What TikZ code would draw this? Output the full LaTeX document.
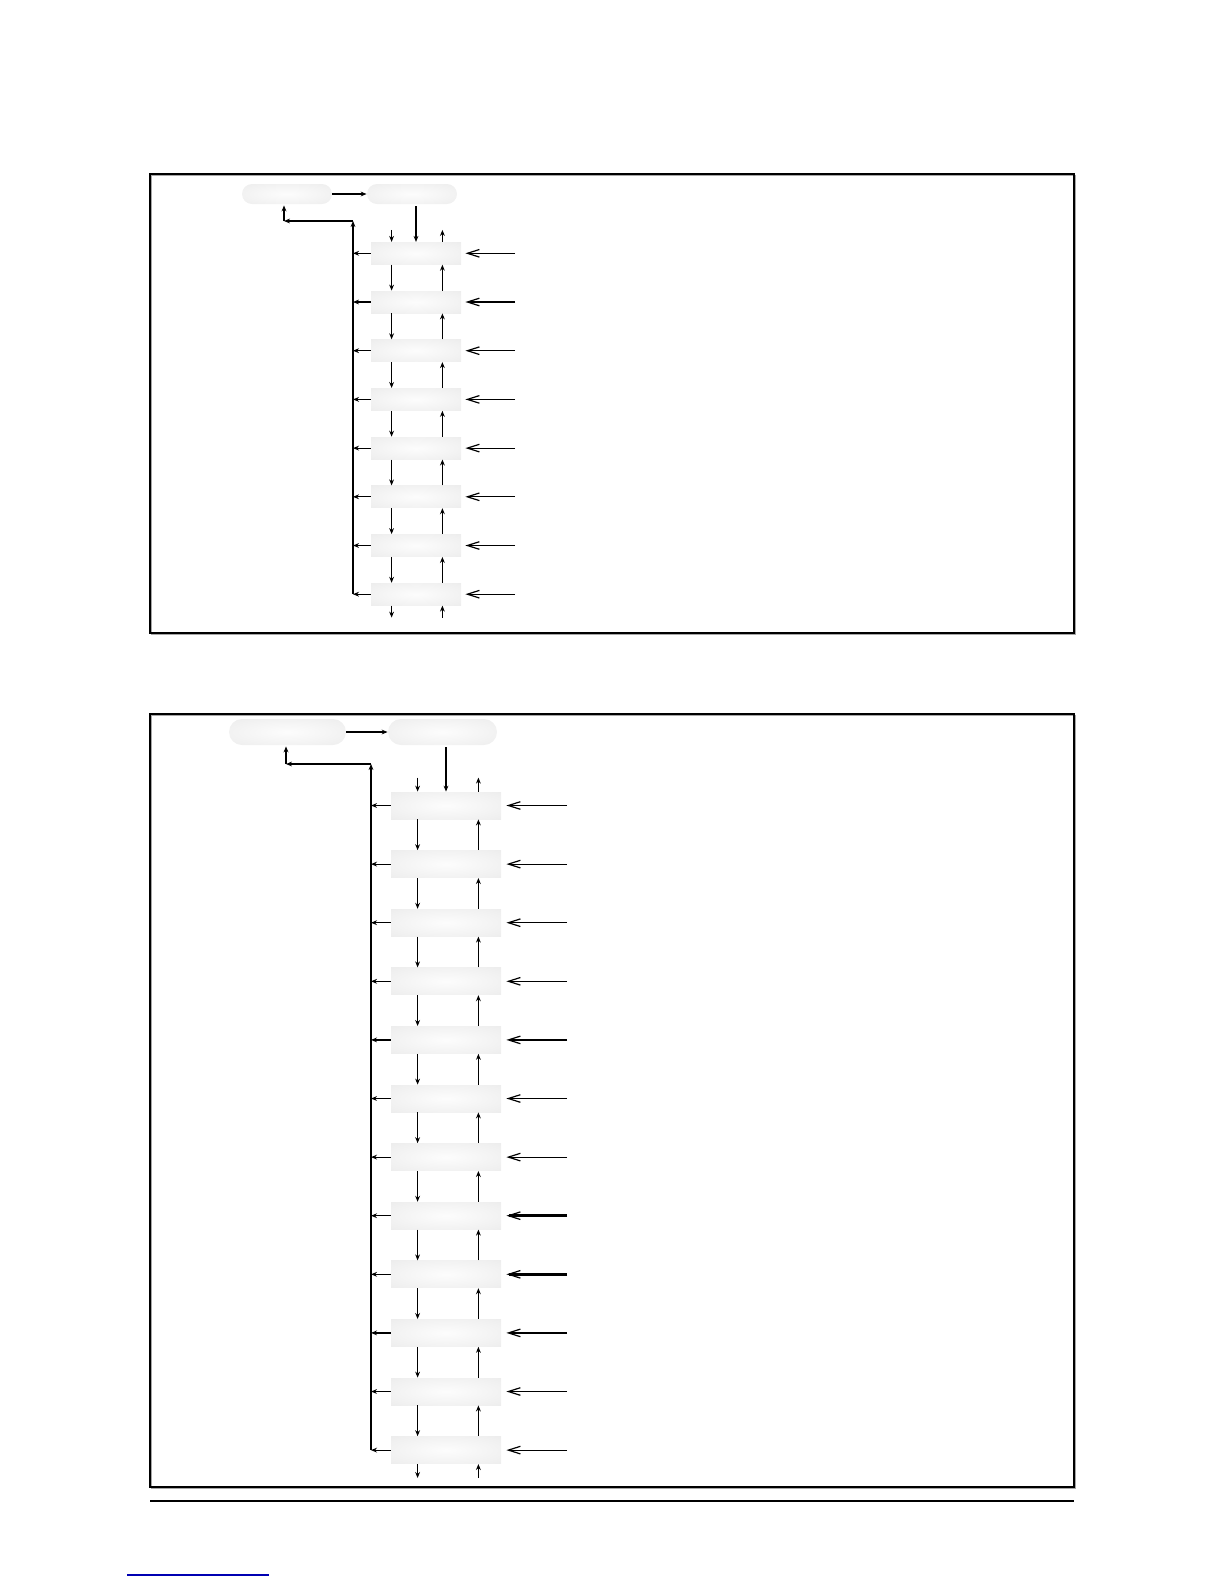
\documentclass[tikz,border=0pt]{standalone}
\usetikzlibrary{arrows.meta,calc}
\pgfdeclareradialshading{boxshade}{\pgfpoint{0bp}{0bp}}{color(0bp)=(black!1); color(30bp)=(black!6); color(50bp)=(black!10)}
\begin{document}
\begin{tikzpicture}[x=0.5bp,y=-0.5bp,
  arr/.style={-{Stealth[length=3bp,width=2.4bp]}, line width=0.6bp},
  rarr/.style={-{Straight Barb[length=6bp,width=3.8bp,line width=0.6bp]}, line width=0.6bp},
  thickrarr/.style={-{Straight Barb[length=6bp,width=3.8bp,line width=0.6bp]}, line width=1.3bp},
  box/.style={shading=boxshade, draw=none, inner sep=0pt, rectangle},
  oval/.style={box},
  panel/.style={line width=0.8bp},
  panelshadow/.style={line width=0.8bp, draw=black!35}]
\useasboundingbox (0,0) rectangle (1224,1584);

% ---------------- Panel 1 ----------------
\draw[panelshadow] (151.5,175.5) rectangle (1075.5,634.5);
\draw[panel] (150,174) rectangle (1074,633);

\node[oval, minimum width=45bp, minimum height=10bp, rounded corners=5bp] (A1) at (287,194) {};
\node[oval, minimum width=45bp, minimum height=10bp, rounded corners=5bp] (B1) at (412,194) {};
\foreach \k in {1,...,8}
  \node[box, minimum width=45bp, minimum height=11bp] (b1-\k) at (416,{253.3+48.7*(\k-1)}) {};

\draw[arr] (A1.east) -- (B1.west);
\draw[arr] ([yshift=-1bp]B1.south -| b1-1.north) -- (b1-1.north);

\coordinate (v1t) at (353,221);
\coordinate (c1) at (284,221);
\draw[arr] (b1-8.west -| v1t) -- (v1t);
\draw[arr] (v1t) -- (c1);
\draw[arr] (c1) -- ([yshift=-0.5bp]c1 |- A1.south);
\foreach \k in {1,...,8}
  \draw[arr] (b1-\k.west) -- (b1-\k.west -| v1t);

\draw[arr] ([xshift=10.5bp,yshift=6bp]b1-1.north west) -- ([xshift=10.5bp]b1-1.north west);
\draw[arr] ([xshift=-9.5bp]b1-1.north east) -- ([xshift=-9.5bp,yshift=6bp]b1-1.north east);
\foreach \k [evaluate=\k as \n using int(\k+1)] in {1,...,7}{
  \draw[arr] ([xshift=10.5bp]b1-\k.south west) -- ([xshift=10.5bp]b1-\n.north west);
  \draw[arr] ([xshift=-9.5bp]b1-\n.north east) -- ([xshift=-9.5bp]b1-\k.south east);
}
\draw[arr] ([xshift=10.5bp]b1-8.south west) -- ([xshift=10.5bp,yshift=-6bp]b1-8.south west);
\draw[arr] ([xshift=-9.5bp,yshift=-6bp]b1-8.south east) -- ([xshift=-9.5bp]b1-8.south east);

\coordinate (R1) at (515,0);
\foreach \k in {1,...,8}
  \draw[rarr] (b1-\k.east -| R1) -- ([xshift=2bp]b1-\k.east);

% ---------------- Panel 2 ----------------
\draw[panelshadow] (151.5,715.5) rectangle (1075.5,1488.5);
\draw[panel] (150,714) rectangle (1074,1487);

\node[oval, minimum width=58.5bp, minimum height=13bp, rounded corners=6.5bp] (A2) at (287.5,732) {};
\node[oval, minimum width=54.5bp, minimum height=13bp, rounded corners=6.5bp] (B2) at (442.5,732) {};
\foreach \k in {1,...,12}
  \node[box, minimum width=55bp, minimum height=13.5bp] (b2-\k) at (446,{805.5+58.6*(\k-1)}) {};

\draw[arr] (A2.east) -- (B2.west);
\draw[arr] ([yshift=-1bp]B2.south -| b2-1.north) -- (b2-1.north);

\coordinate (v2t) at (371,764);
\coordinate (c2) at (286,764);
\draw[arr] (b2-12.west -| v2t) -- (v2t);
\draw[arr] (v2t) -- (c2);
\draw[arr] (c2) -- ([yshift=-0.5bp]c2 |- A2.south);
\foreach \k in {1,...,12}
  \draw[arr] (b2-\k.west) -- (b2-\k.west -| v2t);

\draw[arr] ([xshift=13.5bp,yshift=7bp]b2-1.north west) -- ([xshift=13.5bp]b2-1.north west);
\draw[arr] ([xshift=-11.5bp]b2-1.north east) -- ([xshift=-11.5bp,yshift=7bp]b2-1.north east);
\foreach \k [evaluate=\k as \n using int(\k+1)] in {1,...,11}{
  \draw[arr] ([xshift=13.5bp]b2-\k.south west) -- ([xshift=13.5bp]b2-\n.north west);
  \draw[arr] ([xshift=-11.5bp]b2-\n.north east) -- ([xshift=-11.5bp]b2-\k.south east);
}
\draw[arr] ([xshift=13.5bp]b2-12.south west) -- ([xshift=13.5bp,yshift=-7bp]b2-12.south west);
\draw[arr] ([xshift=-11.5bp,yshift=-7bp]b2-12.south east) -- ([xshift=-11.5bp]b2-12.south east);

\coordinate (R2) at (567,0);
\foreach \k in {1,...,7,11,12}
  \draw[rarr] (b2-\k.east -| R2) -- ([xshift=2.5bp]b2-\k.east);
\foreach \k in {8,9,10}
  \draw[thickrarr] (b2-\k.east -| R2) -- ([xshift=2.5bp]b2-\k.east);

% ---------------- footer lines ----------------
\draw[line width=0.9bp] (150,1501) -- (1074,1501);
\draw[blue!70!black, line width=0.6bp] (127,1575) -- (269,1575);
\end{tikzpicture}
\end{document}
